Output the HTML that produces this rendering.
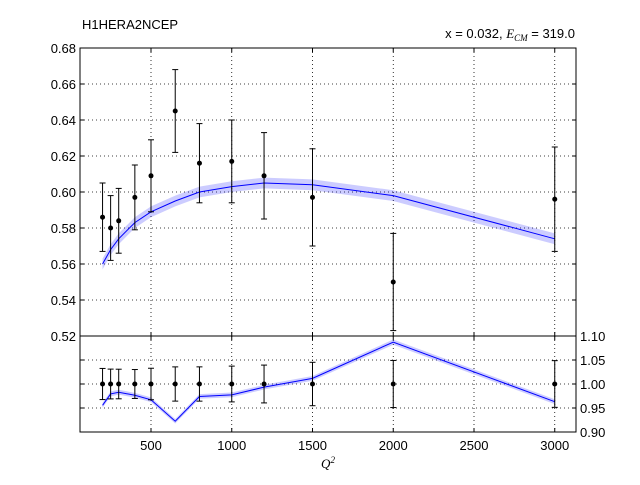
<!DOCTYPE html>
<html><head><meta charset="utf-8"><style>
body{margin:0;background:#fff;font-family:"Liberation Sans",sans-serif}
svg text{font-family:"Liberation Sans","DejaVu Sans",sans-serif;font-size:13px;fill:#000}
</style></head><body>
<svg id="c" width="640" height="480">
<text x="82" y="29">H1HERA2NCEP</text>
<text x="575" y="38" text-anchor="end">x = 0.032, <tspan font-family="Liberation Serif" font-style="italic">E</tspan><tspan font-family="Liberation Serif" font-style="italic" font-size="9" dy="3">CM</tspan><tspan dy="-3"> = 319.0</tspan></text>
<g id="top"></g><g id="bot"></g>
<text x="328" y="468" text-anchor="middle" style="font-family:'Liberation Serif',serif;font-style:italic">Q<tspan font-size="9" dy="-5">2</tspan></text>
</svg>
<script>
const q2=[200,250,300,400,500,650,800,1000,1200,1500,2000,3000];
const dataVals=[0.586,0.580,0.584,0.597,0.609,0.645,0.616,0.617,0.609,0.597,0.550,0.596];
const dataErr=[0.019,0.018,0.018,0.018,0.020,0.023,0.022,0.023,0.024,0.027,0.027,0.029];
const theory=[0.560,0.568,0.574,0.583,0.589,0.595,0.600,0.603,0.605,0.604,0.598,0.574];
const theoryErr=[0.003,0.003,0.003,0.003,0.003,0.003,0.003,0.003,0.003,0.003,0.003,0.003];
const xTicks=[500,1000,1500,2000,2500,3000];
const yTopTicks=[0.52,0.54,0.56,0.58,0.60,0.62,0.64,0.66,0.68];
const yBotTicks=[0.90,0.95,1.00,1.05,1.10];
const NS='http://www.w3.org/2000/svg';
const L=80,R=576;
const X=v=>151+(v-500)*0.1615;
const YT=v=>336-(v-0.52)*1800;
const YB=v=>432-(v-0.90)*480;
function mk(p,t,a){const e=document.createElementNS(NS,t);for(const k in a)e.setAttribute(k,a[k]);p.appendChild(e);return e;}
function panel(g,y0,y1,Y,yt,labX,anchor,fmt,ratio){
  xTicks.forEach(t=>{const l=mk(g,'line',{x1:X(t),x2:X(t),y1:y0,y2:y1,stroke:'#000','stroke-dasharray':'1,3','stroke-width':0.8});
    
    mk(g,'line',{x1:X(t),x2:X(t),y1:y1,y2:y1-4,stroke:'#000'});mk(g,'line',{x1:X(t),x2:X(t),y1:y0,y2:y0+4,stroke:'#000'});});
  yt.forEach(t=>{const y=Y(t);
    if(y>y0+1&&y<y1-1){const l=mk(g,'line',{x1:L,x2:R,y1:y,y2:y,stroke:'#000','stroke-dasharray':'1,3','stroke-width':0.8});
      }
    mk(g,'line',{x1:L,x2:L+4,y1:y,y2:y,stroke:'#000'});mk(g,'line',{x1:R,x2:R-4,y1:y,y2:y,stroke:'#000'});
    const tx=mk(g,'text',{x:labX,y:y+5,'text-anchor':anchor});tx.textContent=fmt(t);
    });
  const th=theory.map((v,i)=>ratio?v/dataVals[i]:v);
  const te=theoryErr.map((v,i)=>ratio?v/dataVals[i]:v);
  let up=q2.map((q,i)=>X(q)+','+Y(th[i]+te[i])).join(' ');
  let dn=q2.map((q,i)=>X(q)+','+Y(th[i]-te[i])).reverse().join(' ');
  const b=mk(g,'polygon',{points:up+' '+dn,fill:'#0000ff',opacity:0.2});
  
  const pl=mk(g,'polyline',{points:q2.map((q,i)=>X(q)+','+Y(th[i])).join(' '),fill:'none',stroke:'#0000ff','stroke-width':1});
  
  q2.forEach((q,i)=>{const v=ratio?1:dataVals[i],e=ratio?dataErr[i]/dataVals[i]:dataErr[i];
    const x=X(q),ya=Y(v+e),yb=Y(v-e);
    mk(g,'line',{x1:x,x2:x,y1:ya,y2:yb,stroke:'#000'});
    mk(g,'line',{x1:x-3,x2:x+3,y1:ya,y2:ya,stroke:'#000'});
    mk(g,'line',{x1:x-3,x2:x+3,y1:yb,y2:yb,stroke:'#000'});
    const c=mk(g,'circle',{cx:x,cy:Y(v),r:2.5,fill:'#000'});
    });
  const f=mk(g,'rect',{x:L,y:y0,width:R-L,height:y1-y0,fill:'none',stroke:'#000'});
  
}
panel(document.getElementById('top'),48,336,YT,yTopTicks,76,'end',t=>t.toFixed(2),false);
panel(document.getElementById('bot'),336,432,YB,yBotTicks,580,'start',t=>t.toFixed(2),true);
const bg=document.getElementById('bot');
xTicks.forEach(t=>{const tx=mk(bg,'text',{x:X(t),y:450,'text-anchor':'middle'});tx.textContent=t;
  });
</script>
</body></html>
